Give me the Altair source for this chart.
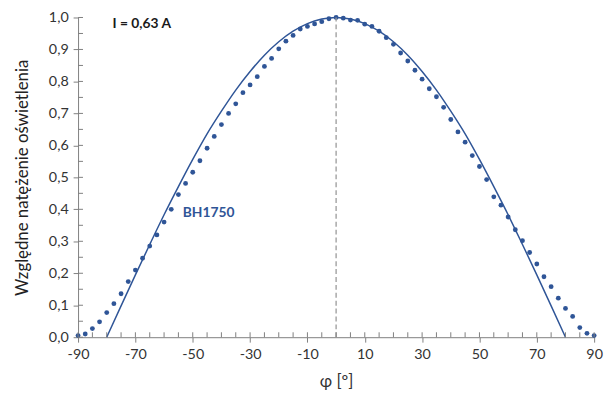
import altair as alt
import pandas as pd

# measured points (every 2.5 degrees)
phi_pts = [-90 + 2.5 * i for i in range(73)]
rel_pts = [0.005, 0.010, 0.027, 0.048, 0.077, 0.105, 0.136, 0.174, 0.210, 0.247,
           0.285, 0.320, 0.360, 0.400, 0.446, 0.481, 0.516, 0.552, 0.591, 0.628,
           0.665, 0.700, 0.730, 0.765, 0.789, 0.815, 0.847, 0.872, 0.902, 0.926,
           0.944, 0.964, 0.972, 0.980, 0.987, 0.996, 1.000,
           0.998, 0.992, 0.991, 0.979, 0.972, 0.957, 0.937, 0.916, 0.889, 0.864,
           0.835, 0.807, 0.777, 0.752, 0.719, 0.681, 0.642, 0.610, 0.568, 0.534,
           0.493, 0.439, 0.413, 0.376, 0.336, 0.302, 0.265, 0.229, 0.189, 0.158,
           0.122, 0.090, 0.065, 0.030, 0.012, 0.005]

# reference curve
phi_line = [-80, -75, -70, -65, -60, -55, -50, -45, -40, -35, -30, -25, -20, -15, -10, -5,
            0, 5, 10, 15, 20, 25, 30, 35, 40, 45, 50, 55, 60, 65, 70, 75, 80]
rel_line = [0.0, 0.098, 0.195, 0.290, 0.383, 0.471, 0.556, 0.636, 0.707, 0.773, 0.831,
            0.882, 0.924, 0.957, 0.981, 0.995, 1.0, 0.995, 0.981, 0.957, 0.924, 0.882,
            0.831, 0.773, 0.707, 0.636, 0.556, 0.471, 0.383, 0.290, 0.195, 0.098, 0.0]

x_ticks = [-90, -70, -50, -30, -10, 10, 30, 50, 70, 90]
y_ticks = [0.0, 0.1, 0.2, 0.3, 0.4, 0.5, 0.6, 0.7, 0.8, 0.9, 1.0]
x_minor = [-90 + 5 * i for i in range(37)]
y_minor = [round(0.05 * i, 2) for i in range(21)]

labels_text = ["I = 0,63 A", "BH1750"]
labels_x = [-78, -53.5]
labels_y = [0.978, 0.389]
labels_color = ["#1a1a1a", "#2F5597"]

BLUE = "#2F5597"
FONT = "Lato"

W, H = 523, 324

xs = alt.Scale(domain=[-90, 90], nice=False, zero=False)
ys = alt.Scale(domain=[0, 1], nice=False, zero=False)

x_axis = alt.Axis(values=x_ticks, title="φ [º]", grid=False,
                  labelExpr="replace(format(datum.value, 'd'), '−', '-')",
                  labelFlush=False, labelOverlap=False,
                  tickSize=5, tickColor="#7f7f7f", domainColor="#7f7f7f",
                  labelColor="#333333", labelFontSize=14.5, labelFont=FONT,
                  titleFont=FONT, titleFontSize=17, titleFontWeight="normal",
                  titleColor="#333333", labelPadding=6, titlePadding=12)
y_axis = alt.Axis(values=y_ticks, title="Względne natężenie oświetlenia", grid=False,
                  tickCount=11,
                  labelExpr="replace(format(datum.value, '.1f'), '.', ',')",
                  labelFlush=False, labelOverlap=False,
                  tickSize=5, tickColor="#7f7f7f", domainColor="#7f7f7f",
                  labelColor="#333333", labelFontSize=14.5, labelFont=FONT,
                  titleFont=FONT, titleFontSize=17, titleFontWeight="normal",
                  titleColor="#222222", labelPadding=5, titlePadding=17)


def X(field):
    return alt.X(field, type="quantitative", scale=xs, axis=x_axis)


def Y(field):
    return alt.Y(field, type="quantitative", scale=ys, axis=y_axis)


pts_df = pd.DataFrame({"phi": phi_pts, "rel": rel_pts})
line_df = pd.DataFrame({"phi": phi_line, "rel": rel_line})

line = alt.Chart(line_df).mark_line(color=BLUE, strokeWidth=1.5, interpolate="monotone").encode(
    x=X("phi"), y=Y("rel"))

points = alt.Chart(pts_df).mark_circle(color=BLUE, size=24, opacity=1).encode(
    x=X("phi"), y=Y("rel"))

dash_df = pd.DataFrame({"phi": [0], "rel": [0], "y1": [1]})
dash = alt.Chart(dash_df).mark_rule(color="#999999", strokeDash=[5, 3], strokeWidth=1.3).encode(
    x=X("phi"), y=Y("rel"), y2="y1:Q")

xminor_df = pd.DataFrame({"phi": x_minor})
xminor = alt.Chart(xminor_df).mark_rule(color="#7f7f7f", strokeWidth=1).encode(
    x=X("phi"), y=alt.value(H - 5), y2=alt.value(H))

yminor_df = pd.DataFrame({"rel": y_minor})
yminor = alt.Chart(yminor_df).mark_rule(color="#7f7f7f", strokeWidth=1).encode(
    y=Y("rel"), x=alt.value(0), x2=alt.value(5))

text_df = pd.DataFrame({"phi": labels_x, "rel": labels_y, "t": labels_text, "c": labels_color})
texts = alt.Chart(text_df).mark_text(align="left", baseline="middle", font=FONT,
                                      fontWeight="bold", fontSize=14).encode(
    x=X("phi"), y=Y("rel"), text="t:N",
    color=alt.Color("c:N", scale=None))

chart = alt.layer(line, points, dash, xminor, yminor, texts).properties(
    width=W, height=H,
    autosize=alt.AutoSizeParams(type="none"),
    padding={"left": 71, "top": 7, "right": 11, "bottom": 60},
).configure_view(stroke=None)

chart.save("out.html", embed_options={"renderer": "svg", "actions": False})
